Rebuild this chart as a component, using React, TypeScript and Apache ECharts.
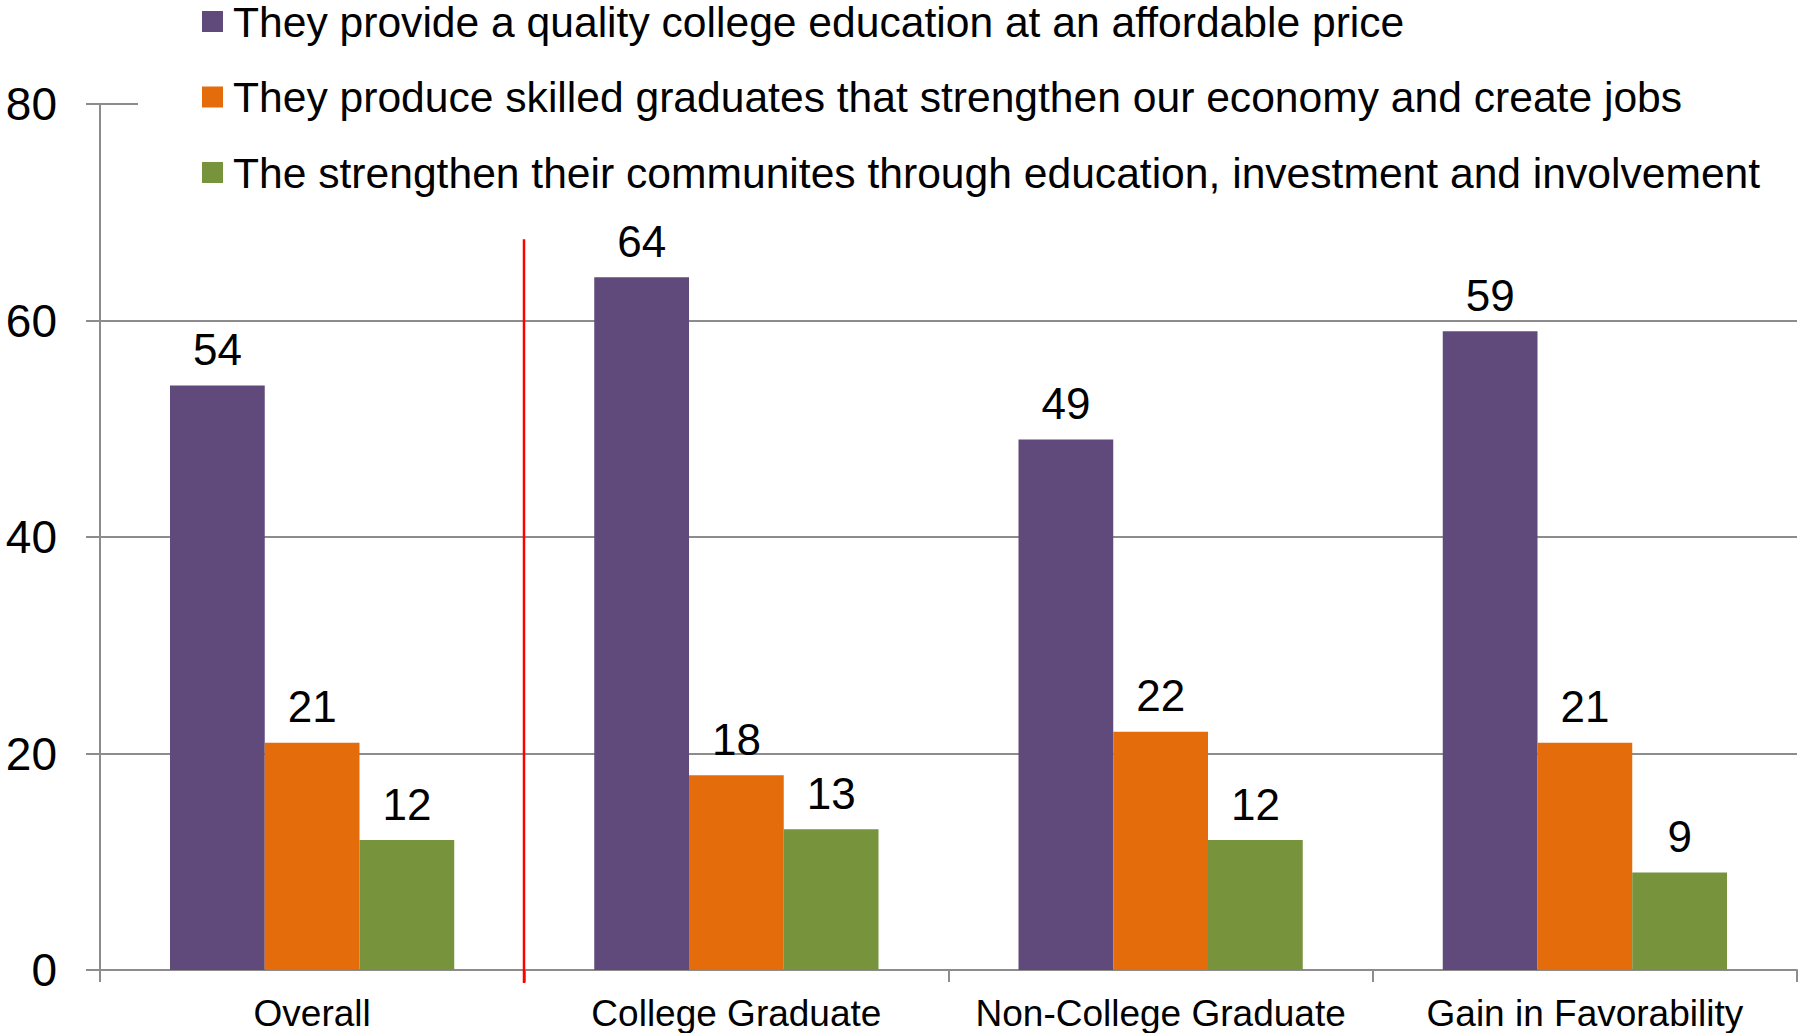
import React, { useEffect, useRef } from "react";
import * as echarts from "echarts";

const categories = ["Overall", "College Graduate", "Non-College Graduate", "Gain in Favorability"];
const seriesNames = [
  "They provide a quality college education at an affordable price",
  "They produce skilled graduates that strengthen our economy and create jobs",
  "The strengthen their communites through education, investment and involvement",
];
const quality = [54, 64, 49, 59];
const skilled = [21, 18, 22, 21];
const communities = [12, 13, 12, 9];
const colors = ["#604A7B", "#E46C0A", "#77933C"];

const FONT = "'Liberation Sans', Arial, sans-serif";
const GRID = "#8c8c8c";

export default function App() {
  const ref = useRef<HTMLDivElement>(null);
  useEffect(() => {
    if (!ref.current) return;
    const chart = echarts.init(ref.current, null, { renderer: "svg" });
    const mkSeries = (name: string, data: number[], color: string) => ({
      name,
      type: "bar",
      data,
      barGap: "0%",
      barCategoryGap: "33%",
      itemStyle: { color },
      label: {
        show: true,
        position: "top",
        distance: 14,
        fontSize: 44,
        fontFamily: FONT,
        color: "#000",
      },
    });
    chart.setOption({
      animation: false,
      textStyle: { fontFamily: FONT },
      grid: { left: 100, right: 3, top: 104, bottom: 63, containLabel: false },
      legend: {
        orient: "vertical",
        left: 138,
        top: 0,
        padding: [0, 70, 0, 64],
        backgroundColor: "#ffffff",
        itemWidth: 21,
        itemHeight: 21,
        itemGap: 32.5,
        icon: "rect",
        textStyle: {
          fontSize: 42.6,
          lineHeight: 42,
          fontFamily: FONT,
          color: "#000",
          padding: [0, 0, 0, 5],
        },
        data: seriesNames,
      },
      xAxis: {
        type: "category",
        data: categories,
        boundaryGap: true,
        axisLine: { show: true, lineStyle: { color: GRID, width: 2 } },
        axisTick: { show: true, length: 12, alignWithLabel: false, lineStyle: { color: GRID, width: 2 } },
        axisLabel: { fontSize: 37, fontFamily: FONT, color: "#000", margin: 25, interval: 0 },
      },
      yAxis: {
        type: "value",
        min: 0,
        max: 80,
        interval: 20,
        axisLine: { show: true, lineStyle: { color: GRID, width: 2 } },
        axisTick: { show: true, length: 14, inside: false, lineStyle: { color: GRID, width: 2 } },
        splitLine: { show: true, lineStyle: { color: GRID, width: 2 } },
        axisLabel: { fontSize: 46, fontFamily: FONT, color: "#000", margin: 43 },
      },
      series: [
        mkSeries(seriesNames[0], quality, colors[0]),
        mkSeries(seriesNames[1], skilled, colors[1]),
        mkSeries(seriesNames[2], communities, colors[2]),
      ],
    });
    const p0 = chart.convertToPixel({ xAxisIndex: 0 }, 0) as number;
    const p1 = chart.convertToPixel({ xAxisIndex: 0 }, 1) as number;
    const yTop = chart.convertToPixel({ yAxisIndex: 0 }, 67.5) as number;
    const yZero = chart.convertToPixel({ yAxisIndex: 0 }, 0) as number;
    const xr = Math.round((p0 + p1) / 2);
    chart.setOption({
      graphic: [
        {
          type: "line",
          z: 100,
          shape: { x1: xr, y1: yTop, x2: xr, y2: yZero + 13 },
          style: { stroke: "#ff0000", lineWidth: 2.5 },
        },
      ],
    });
    return () => chart.dispose();
  }, []);
  return (
    <div
      ref={ref}
      style={{ position: "absolute", left: 0, top: 0, width: 1800, height: 1033, background: "#fff" }}
    />
  );
}
